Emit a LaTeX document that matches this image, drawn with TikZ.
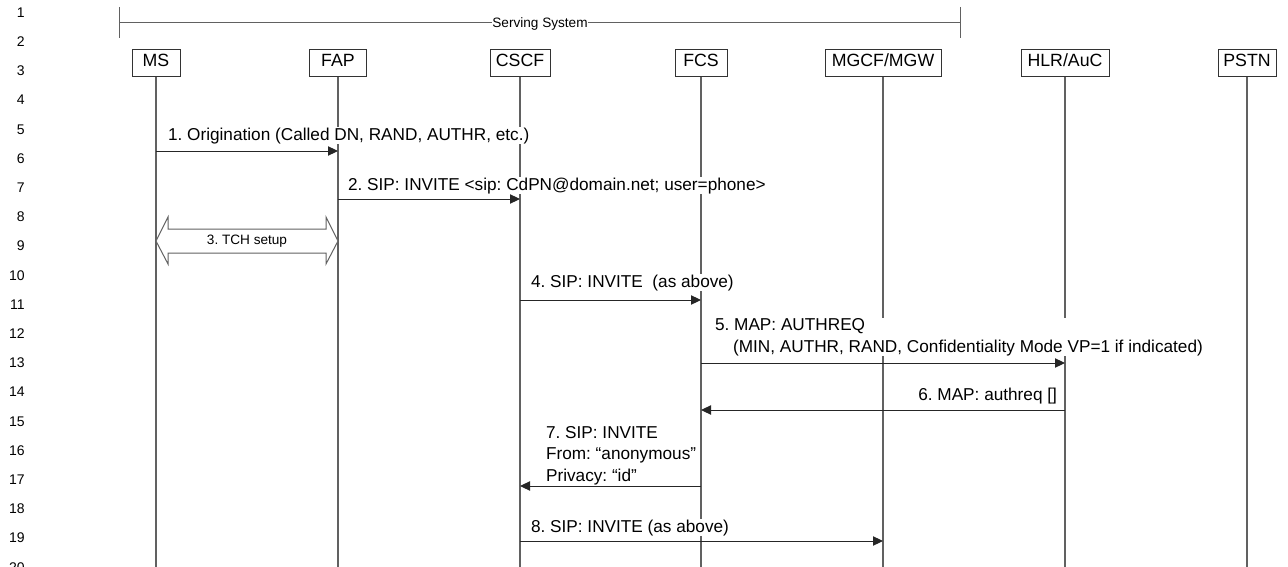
\documentclass[tikz,border=0pt]{standalone}
\usepackage{fontspec}
\setmainfont{Liberation Sans}
\usetikzlibrary{arrows.meta}
\frenchspacing
\definecolor{lifegray}{gray}{0.38}
\newcommand{\msgfont}{\fontsize{12.9pt}{16pt}\selectfont}
\newcommand{\boxfont}{\fontsize{13.3pt}{16pt}\selectfont}
\newcommand{\smallfont}{\fontsize{10.2pt}{12pt}\selectfont}
\newcommand{\numfont}{\fontsize{10.5pt}{12pt}\selectfont}
\tikzset{
  entity/.style={draw=black!80, line width=0.75pt, minimum height=20.25pt, inner sep=0pt,
    text height=0.75em, text depth=0.25em, font=\boxfont},
  lifeline/.style={lifegray, line width=0.9pt},
  msg/.style={-{Triangle[length=7.5pt,width=7pt]}, line width=0.75pt, black!85},
  msglabel/.style={fill=white, inner sep=0.6pt, font=\msgfont, align=left},
}

\begin{document}
\begin{tikzpicture}[x=0.75pt, y=-0.75pt]
    \useasboundingbox (0,0) rectangle (1288,567);
    \foreach \n in {1,...,20}
      \node[anchor=base east, font=\numfont, inner sep=0pt] (row\n) at (25, {17.2+(\n-1)*29.2}) {\n};

    \draw[lifegray, line width=0.75pt] (119,7) -- (119,38);
    \draw[lifegray, line width=0.75pt] (960,7) -- (960,38);
    \draw[lifegray, line width=0.75pt] (119,23) -- (960,23);
    \node[fill=white, inner sep=0.5pt, font=\smallfont, anchor=base] (serving) at (540,28) {Serving System};

    \node[entity, minimum width=36pt] (ms) at (156,63.5) {MS};
    \node[entity, minimum width=42.75pt] (fap) at (338,63.5) {FAP};
    \node[entity, minimum width=45pt] (cscf) at (520,63.5) {CSCF};
    \node[entity, minimum width=39pt] (fcs) at (701,63.5) {FCS};
    \node[entity, minimum width=87pt] (mgcf) at (883,63.5) {MGCF/MGW};
    \node[entity, minimum width=66pt] (hlr) at (1065,63.5) {HLR/AuC};
    \node[entity, minimum width=43.5pt] (pstn) at (1247,63.5) {PSTN};
    \foreach \e in {ms,fap,cscf,fcs,mgcf,hlr,pstn}
      \draw[lifeline] (\e.south) -- (\e.south |- 0,567);

    \draw[msg] (ms.south |- 0,151) -- (fap.south |- 0,151);
    \draw[msg] (fap.south |- 0,199) -- (cscf.south |- 0,199);
    \draw[msg] (cscf.south |- 0,300) -- (fcs.south |- 0,300);
    \draw[msg] (fcs.south |- 0,363) -- (hlr.south |- 0,363);
    \draw[msg] (hlr.south |- 0,410) -- (fcs.south |- 0,410);
    \draw[msg] (fcs.south |- 0,486) -- (cscf.south |- 0,486);
    \draw[msg] (cscf.south |- 0,541) -- (mgcf.south |- 0,541);

    \draw[lifegray, line width=0.75pt, fill=white] (156,241) -- (168,217) -- (168,229) -- (326,229)
      -- (326,217) -- (338,241) -- (326,264) -- (326,253) -- (168,253) -- (168,264) -- cycle;
    \node[font=\smallfont, inner sep=0pt, anchor=base] (tch) at (247,244) {3. TCH setup};

    \node[msglabel, anchor=base west] (m1) at (167,140) {1. Origination (Called DN, RAND, AUTHR, etc.)};
    \node[msglabel, anchor=base west] (m2) at (347,190) {2. SIP: INVITE <sip: CdPN@domain.net; user=phone>};
    \node[msglabel, anchor=base west] (m4) at (530,287) {4. SIP: INVITE\ \ (as above)};
    \node[msglabel, anchor=base west] (m5) at (714,352) {5. MAP: AUTHREQ\\
      \hspace*{13.5pt}(MIN, AUTHR, RAND, Confidentiality Mode VP=1 if indicated)};
    \node[msglabel, anchor=base east] (m6) at (1058,400) {6. MAP: authreq []};
    \node[msglabel, anchor=base west] (m7) at (545,481) {7. SIP: INVITE\\ From: “anonymous”\\ Privacy: “id”};
    \node[msglabel, anchor=base west] (m8) at (530,532) {8. SIP: INVITE (as above)};
  \end{tikzpicture}
\end{document}
